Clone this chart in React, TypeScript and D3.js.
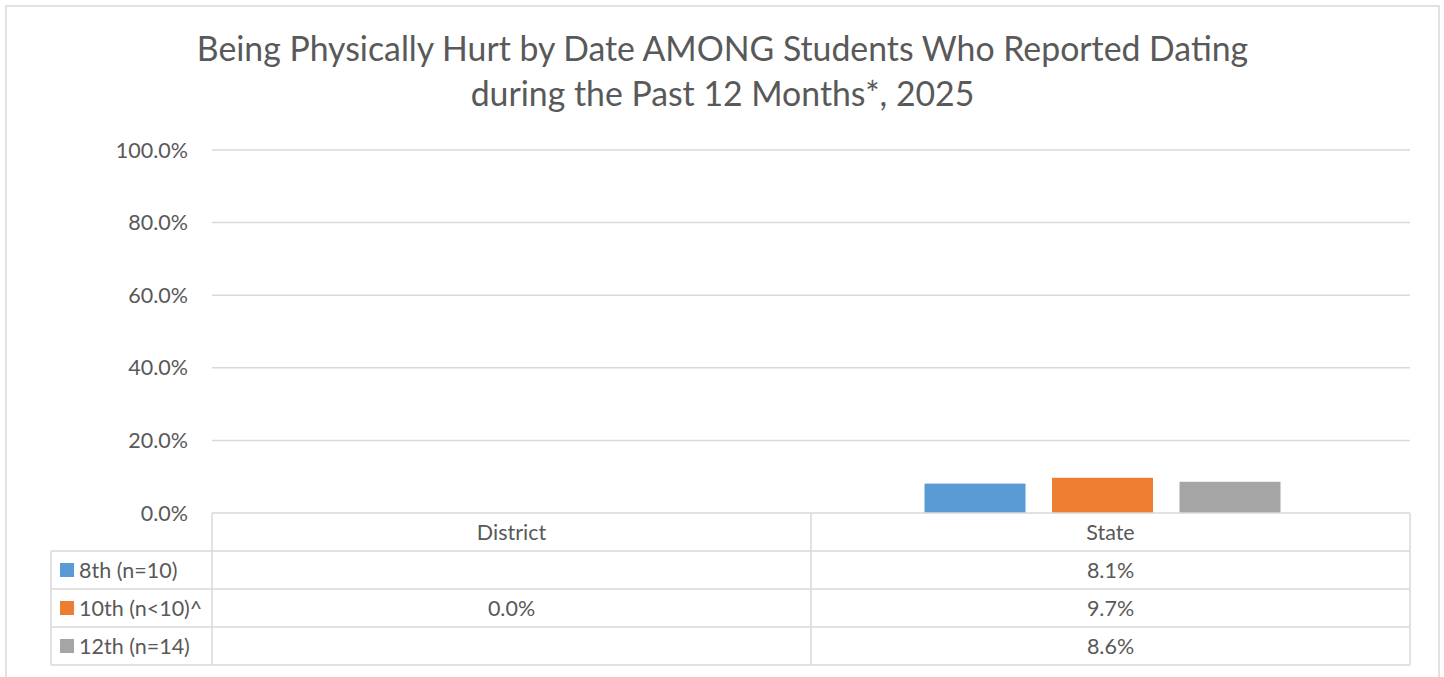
import React from "react";
import * as d3 from "d3";

const titleLines = [
  "Being Physically Hurt by Date AMONG Students Who Reported Dating",
  "during the Past 12 Months*, 2025",
];
const categories = ["District", "State"];
const seriesNames = ["8th (n=10)", "10th (n<10)^", "12th (n=14)"];
const seriesColors = ["#5B9BD5", "#ED7D31", "#A5A5A5"];
// values per series, per category (null = no data)
const values8th: (number | null)[] = [null, 8.1];
const values10th: (number | null)[] = [0.0, 9.7];
const values12th: (number | null)[] = [null, 8.6];
const seriesValues = [values8th, values10th, values12th];
const yTicks = [0, 20, 40, 60, 80, 100];

const W = 1444;
const H = 677;
const plotLeft = 212;
const plotRight = 1410;
const plotTop = 150;
const plotBottom = 513;
const tableLeft = 51;
const rowH = 38;
const font = "Lato, 'Open Sans', sans-serif";
const textColor = "#595959";
const lineColor = "#D9D9D9";
const fs = 21.5;

export default function App() {
  const x = d3.scaleBand<string>().domain(categories).range([plotLeft, plotRight]).padding(0);
  const y = d3.scaleLinear().domain([0, 100]).range([plotBottom, plotTop]);
  const bw = x.bandwidth();
  const inner = d3
    .scaleBand<number>()
    .domain(d3.range(seriesNames.length))
    .range([bw * 0.1895, bw * 0.7838])
    .paddingInner(0.208)
    .paddingOuter(0);

  const tableTop = plotBottom;
  const rowsTop = tableTop + rowH;
  const tableBottom = rowsTop + rowH * seriesNames.length;

  return (
    <svg
      width={W}
      height={H}
      style={{ position: "absolute", left: 0, top: 0, background: "#fff" }}
      fontFamily={font}
    >
      <rect x={0} y={0} width={W} height={H} fill="#fff" />
      {/* outer border */}
      <rect x={6} y={6} width={1433} height={H + 10} fill="none" stroke={lineColor} strokeWidth={1.5} />

      {/* title */}
      {titleLines.map((t, i) => (
        <text
          key={i}
          x={722.5}
          y={61 + i * 45}
          textAnchor="middle"
          fontSize={33.8}
          fill={textColor}
        >
          {t}
        </text>
      ))}

      {/* gridlines */}
      {yTicks.map((t) =>
        t === 0 ? null : (
          <line key={t} x1={plotLeft} x2={plotRight} y1={y(t)} y2={y(t)} stroke={lineColor} strokeWidth={1.5} />
        )
      )}
      {/* tick labels */}
      {yTicks.map((t) => (
        <text key={"l" + t} x={188} y={y(t)} dy="0.35em" textAnchor="end" fontSize={fs} fill={textColor}>
          {d3.format(".1f")(t) + "%"}
        </text>
      ))}

      {/* bars */}
      {categories.map((c, ci) =>
        seriesValues.map((vals, si) => {
          const v = vals[ci];
          if (v == null || v === 0) return null;
          return (
            <rect
              key={c + si}
              x={(x(c) as number) + (inner(si) as number)}
              width={inner.bandwidth()}
              y={y(v)}
              height={y(0) - y(v)}
              fill={seriesColors[si]}
            />
          );
        })
      )}

      {/* data table */}
      <g stroke={lineColor} strokeWidth={1.5} fill="none">
        <line x1={plotLeft} x2={plotRight} y1={tableTop} y2={tableTop} />
        {d3.range(seriesNames.length + 1).map((i) => (
          <line key={"h" + i} x1={tableLeft} x2={plotRight} y1={rowsTop + i * rowH} y2={rowsTop + i * rowH} />
        ))}
        <line x1={tableLeft} x2={tableLeft} y1={rowsTop} y2={tableBottom} />
        {categories.map((c) => (
          <line key={"v" + c} x1={x(c)} x2={x(c)} y1={tableTop} y2={tableBottom} />
        ))}
        <line x1={plotRight} x2={plotRight} y1={tableTop} y2={tableBottom} />
      </g>
      {categories.map((c) => (
        <text
          key={"c" + c}
          x={(x(c) as number) + bw / 2}
          y={tableTop + rowH / 2}
          dy="0.35em"
          textAnchor="middle"
          fontSize={fs}
          fill={textColor}
        >
          {c}
        </text>
      ))}
      {seriesNames.map((s, si) => {
        const cy = rowsTop + si * rowH + rowH / 2;
        return (
          <g key={"r" + s}>
            <rect x={60} y={cy - 7} width={14} height={14} fill={seriesColors[si]} />
            <text x={79} y={cy} dy="0.35em" fontSize={fs} fill={textColor}>
              {s}
            </text>
            {categories.map((c, ci) => {
              const v = seriesValues[si][ci];
              if (v == null) return null;
              return (
                <text
                  key={c}
                  x={(x(c) as number) + bw / 2}
                  y={cy}
                  dy="0.35em"
                  textAnchor="middle"
                  fontSize={fs}
                  fill={textColor}
                >
                  {d3.format(".1f")(v) + "%"}
                </text>
              );
            })}
          </g>
        );
      })}
    </svg>
  );
}
